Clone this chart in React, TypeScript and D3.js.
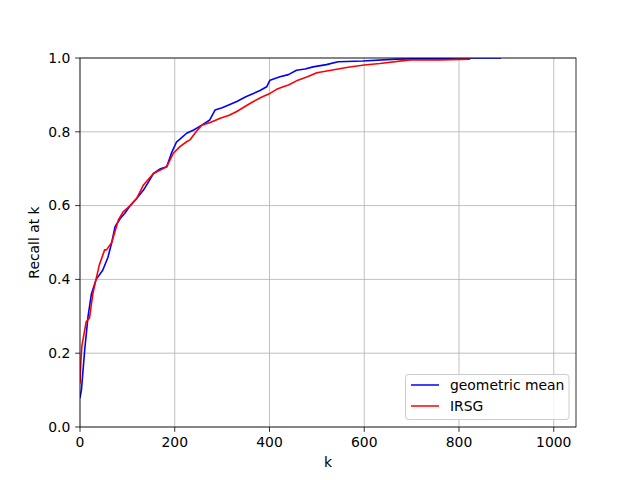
import React, { useEffect, useRef } from "react";
import * as d3 from "d3";

const geoK = [0, 3, 10, 17, 24, 34, 48, 59, 67, 74, 85, 95, 106, 120, 134, 145, 155, 170, 183, 193, 204, 211, 225, 240, 257, 274, 285, 300, 315, 331, 350, 366, 380, 394, 401, 422, 440, 457, 475, 492, 520, 545, 597, 668, 750, 800, 887];
const geoRecall = [0.08, 0.10, 0.21, 0.30, 0.36, 0.40, 0.425, 0.46, 0.50, 0.543, 0.565, 0.58, 0.60, 0.62, 0.642, 0.665, 0.687, 0.70, 0.705, 0.742, 0.773, 0.78, 0.796, 0.805, 0.818, 0.832, 0.859, 0.865, 0.873, 0.882, 0.895, 0.904, 0.912, 0.922, 0.94, 0.949, 0.955, 0.967, 0.97, 0.976, 0.982, 0.99, 0.992, 0.997, 0.999, 1.0, 1.0];

const irsgK = [0, 2, 4, 13, 20, 27, 32, 41, 52, 56, 67, 81, 91, 106, 120, 134, 155, 183, 197, 211, 225, 232, 245, 257, 275, 296, 315, 331, 350, 366, 385, 401, 415, 429, 440, 460, 480, 500, 530, 566, 600, 633, 697, 760, 822];
const irsgRecall = [0.12, 0.18, 0.22, 0.285, 0.295, 0.36, 0.39, 0.44, 0.48, 0.48, 0.50, 0.561, 0.583, 0.60, 0.62, 0.656, 0.687, 0.705, 0.742, 0.76, 0.773, 0.778, 0.80, 0.818, 0.825, 0.837, 0.845, 0.855, 0.87, 0.882, 0.895, 0.904, 0.915, 0.922, 0.927, 0.94, 0.949, 0.96, 0.967, 0.975, 0.981, 0.985, 0.995, 0.995, 0.997];

const xTicks = [0, 200, 400, 600, 800, 1000];
const yTicks = [0.0, 0.2, 0.4, 0.6, 0.8, 1.0];
const seriesNames = ["geometric mean", "IRSG"];
const seriesColors = ["blue", "red"];

export default function App() {
  const ref = useRef<SVGSVGElement>(null);
  useEffect(() => {
    document.body.style.margin = "0";
    const svg = d3.select(ref.current);
    svg.selectAll("*").remove();
    const L = 80, R = 576, T = 58, B = 427;
    const fs = 13.9;
    const font = "DejaVu Sans, sans-serif";
    const x = d3.scaleLinear().domain([0, 1047]).range([L, R]);
    const y = d3.scaleLinear().domain([0, 1]).range([B, T]);

    svg.append("rect").attr("width", 640).attr("height", 480).attr("fill", "white");

    svg.append("defs").append("clipPath").attr("id", "clip")
      .append("rect").attr("x", L).attr("y", T).attr("width", R - L).attr("height", B - T);

    const grid = svg.append("g");
    xTicks.forEach((t) => {
      grid.append("line").attr("x1", x(t)).attr("x2", x(t)).attr("y1", T).attr("y2", B)
        .attr("stroke", "#b0b0b0").attr("stroke-width", 0.8);
    });
    yTicks.forEach((t) => {
      grid.append("line").attr("x1", L).attr("x2", R).attr("y1", y(t)).attr("y2", y(t))
        .attr("stroke", "#b0b0b0").attr("stroke-width", 0.8);
    });

    const line = d3.line<[number, number]>().x((d) => x(d[0])).y((d) => y(d[1])).curve(d3.curveLinear);
    const series: [number, number][][] = [
      geoK.map((k, i) => [k, geoRecall[i]]),
      irsgK.map((k, i) => [k, irsgRecall[i]]),
    ];
    const lg = svg.append("g").attr("clip-path", "url(#clip)");
    series.forEach((s, i) => {
      lg.append("path").attr("d", line(s)).attr("fill", "none")
        .attr("stroke", seriesColors[i]).attr("stroke-width", 1.6)
        .attr("stroke-linejoin", "round").attr("stroke-linecap", "square");
    });

    // spines
    svg.append("rect").attr("x", L).attr("y", T).attr("width", R - L).attr("height", B - T)
      .attr("fill", "none").attr("stroke", "black").attr("stroke-width", 0.8);

    // ticks
    const tl = 4.86, pad = 4.86;
    xTicks.forEach((t) => {
      svg.append("line").attr("x1", x(t)).attr("x2", x(t)).attr("y1", B).attr("y2", B + tl)
        .attr("stroke", "black").attr("stroke-width", 0.8);
      svg.append("text").attr("x", x(t)).attr("y", B + tl + pad).attr("dy", "0.76em")
        .attr("text-anchor", "middle").attr("font-family", font).attr("font-size", fs)
        .text(String(t));
    });
    yTicks.forEach((t) => {
      svg.append("line").attr("x1", L - tl).attr("x2", L).attr("y1", y(t)).attr("y2", y(t))
        .attr("stroke", "black").attr("stroke-width", 0.8);
      svg.append("text").attr("x", L - tl - pad).attr("y", y(t)).attr("dy", "0.35em")
        .attr("text-anchor", "end").attr("font-family", font).attr("font-size", fs)
        .text(t.toFixed(1));
    });

    svg.append("text").attr("x", (L + R) / 2).attr("y", 467).attr("text-anchor", "middle")
      .attr("font-family", font).attr("font-size", fs).text("k");
    svg.append("text").attr("transform", `translate(39,${(T + B) / 2}) rotate(-90)`)
      .attr("text-anchor", "middle").attr("font-family", font).attr("font-size", fs).text("Recall at k");

    // legend
    const leg = svg.append("g");
    leg.append("rect").attr("x", 405.5).attr("y", 374.5).attr("width", 163.5).attr("height", 45)
      .attr("rx", 3).attr("fill", "white").attr("fill-opacity", 0.8)
      .attr("stroke", "#cccccc").attr("stroke-width", 1);
    seriesNames.forEach((n, i) => {
      const yy = 385 + i * 21;
      leg.append("line").attr("x1", 411).attr("x2", 439).attr("y1", yy).attr("y2", yy)
        .attr("stroke", seriesColors[i]).attr("stroke-width", 1.5);
      leg.append("text").attr("x", 450).attr("y", yy).attr("dy", "0.35em")
        .attr("font-family", font).attr("font-size", fs).text(n);
    });
  }, []);
  return <svg ref={ref} width={640} height={480} style={{ display: "block" }} />;
}
